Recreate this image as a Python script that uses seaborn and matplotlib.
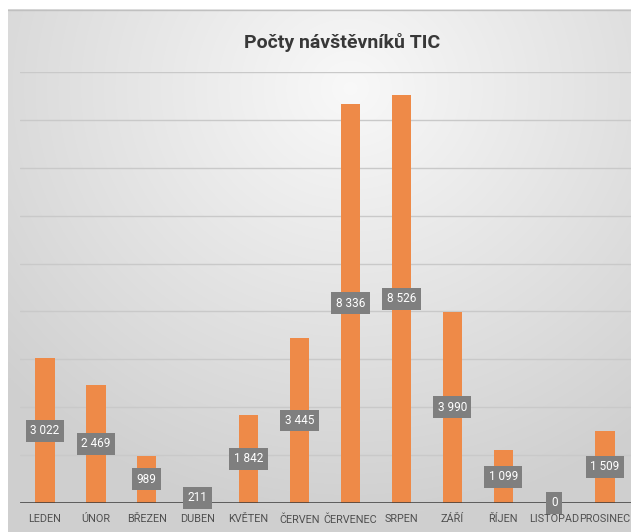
import numpy as np
import pandas as pd
import matplotlib
matplotlib.use("Agg")
import matplotlib.pyplot as plt
import seaborn as sns

months = ["LEDEN", "ÚNOR", "BŘEZEN", "DUBEN", "KVĚTEN", "ČERVEN",
          "ČERVENEC", "SRPEN", "ZÁŘÍ", "ŘÍJEN", "LISTOPAD", "PROSINEC"]
visitors = [3022, 2469, 989, 211, 1842, 3445, 8336, 8526, 3990, 1099, 0, 1509]
title = "Počty návštěvníků TIC"

sns.set_theme(style="white")
plt.rcParams['font.family'] = ['Roboto', 'DejaVu Sans']

W, H = 631, 532
fig = plt.figure(figsize=(W / 100, H / 100), dpi=100, facecolor="white")

# gradient background panel
bg = fig.add_axes([8 / W, 0, (W - 8) / W, 1 - 9 / H], zorder=0)
ny, nx = 200, 200
yy, xx = np.mgrid[0:1:ny * 1j, 0:1:nx * 1j]
r = np.sqrt(((xx - 0.55) / 1.0) ** 2 + ((yy - 0.15) / 1.1) ** 2)
r = np.clip(r / 0.75, 0, 1)
val = 0.975 - 0.16 * r
img = np.dstack([val, val, val])
bg.imshow(img, aspect="auto", extent=[0, 1, 1, 0], interpolation="bilinear")
bg.plot([0, 1], [0.002, 0.002], color="#c0c0c0", lw=1.0)
bg.set_xlim(0, 1)
bg.set_ylim(1, 0)
bg.axis("off")

ax = fig.add_axes([19.5 / W, 1 - 503 / H, 611 / W, (503 - 72) / H], zorder=1)
ax.patch.set_alpha(0)

df = pd.DataFrame({"month": months, "visitors": visitors})
sns.barplot(data=df, x="month", y="visitors", color="#EE8A48", width=0.38,
            saturation=1, linewidth=0, ax=ax, zorder=2)

ax.set_ylim(0, 9000)
ax.set_xlim(-0.5, 11.5)
for g in range(1000, 9001, 1000):
    ax.axhline(g, color="#c9c9c9", lw=1.0, zorder=1)
ax.axhline(0, color="#3a3a3a", lw=1.8, zorder=3)

for sp in ax.spines.values():
    sp.set_visible(False)
ax.set_yticks([])
ax.set_xlabel("")
ax.set_ylabel("")
ax.tick_params(axis="x", length=0, pad=8, labelcolor="#505050", labelsize=7.8)

for i, v in enumerate(visitors):
    txt = f"{v:,}".replace(",", " ")
    ax.text(i, v / 2, txt, ha="center", va="center", color="white",
            fontsize=8.5, zorder=5,
            bbox=dict(boxstyle="square,pad=0.38", facecolor="#7f7f7f",
                      edgecolor="none"))

fig.text(342 / W, 1 - 42 / H, title, ha="center", va="center",
         fontsize=14, fontweight="bold", color="#383838")

fig.savefig("out.png", dpi=100, facecolor="white")
